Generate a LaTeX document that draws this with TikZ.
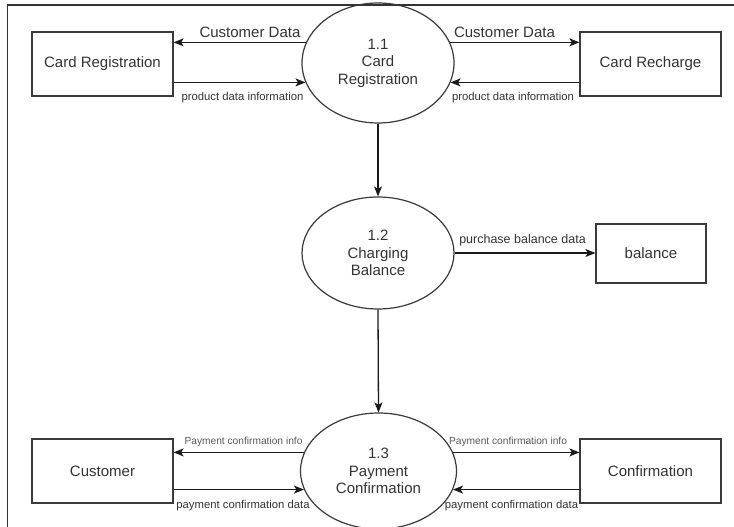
\documentclass[tikz,border=0pt]{standalone}
\usepackage{fontspec}
\setmainfont{Liberation Sans}
\usetikzlibrary{arrows.meta,shapes.geometric}

\definecolor{ink}{HTML}{1A1A1A}
\definecolor{edge}{HTML}{3A3A3A}
\definecolor{txt}{HTML}{333333}
\definecolor{softtxt}{HTML}{5A5A5A}

\tikzset{
  entity/.style={draw=edge, line width=1.2pt, rectangle, inner sep=0pt,
    minimum width=141pt, minimum height=64pt, text=txt,
    font=\fontsize{15}{18}\selectfont},
  process/.style={draw=edge, line width=1.2pt, ellipse, inner sep=0pt,
    align=center, text=txt, font=\fontsize{15}{17.5}\selectfont},
  flow/.style={draw=ink, line width=1.3pt,
    -{Stealth[length=10pt,width=8pt,inset=2.5pt]}},
  biglbl/.style={text=txt, inner sep=0pt, font=\fontsize{15}{18}\selectfont},
  midlbl/.style={text=txt, inner sep=0pt, font=\fontsize{12.5}{15}\selectfont},
  smalllbl/.style={text=txt, inner sep=0pt, font=\fontsize{11.3}{13}\selectfont},
  tinylbl/.style={text=softtxt, inner sep=0pt, font=\fontsize{10.2}{12}\selectfont},
}

\begin{document}
\begin{tikzpicture}[x=1pt,y=1pt]
  \useasboundingbox[fill=white] (0,0) rectangle (734,527);

  % outer frame (top and left edges)
  \draw[draw=txt, line width=1.5pt] (7.5,0) -- (7.5,522) -- (734,522);

  % processes
  \node[process, minimum width=152pt, minimum height=120pt] (p11) at (378,464)
    {1.1\\Card\\Registration};
  \node[process, minimum width=152pt, minimum height=112pt] (p12) at (378,274)
    {1.2\\Charging\\Balance};
  \node[process, minimum width=156pt, minimum height=116pt] (p13) at (378.5,56)
    {1.3\\Payment\\Confirmation};

  % external entities
  \node[entity] (cardreg) at (102.5,463) {Card Registration};
  \node[entity] (cardrech) at (650.5,463) {Card Recharge};
  \node[entity, minimum width=110pt, minimum height=59pt] (bal) at (651,273.5) {balance};
  \node[entity] (cust) at (102.5,56) {Customer};
  \node[entity] (conf) at (650.5,56) {Confirmation};

  % flows around 1.1
  \draw[flow] (p11.164) -- (cardreg.east |- p11.164);
  \draw[flow] (cardreg.east |- p11.195) -- (p11.195);
  \draw[flow] (p11.16) -- (cardrech.west |- p11.16);
  \draw[flow] (cardrech.west |- p11.345) -- (p11.345);

  % flows between processes
  \draw[flow] (p11.south) -- (p12.north);
  \draw[flow] (p12.east) -- (bal.west |- p12.east);
  \draw[flow] (p12.south) -- (p13.north);

  % flows around 1.3
  \draw[flow] (p13.166) -- (cust.east |- p13.166);
  \draw[flow] (cust.east |- p13.194) -- (p13.194);
  \draw[flow] (p13.14) -- (conf.west |- p13.14);
  \draw[flow] (conf.west |- p13.346) -- (p13.346);

  % flow labels
  \node[biglbl] (l1) at (250,495) {Customer Data};
  \node[biglbl] (l2) at (504.5,495) {Customer Data};
  \node[smalllbl] (l3) at (242.5,429) {product data information};
  \node[smalllbl] (l4) at (513,429) {product data information};
  \node[midlbl] (l5) at (522.5,287) {purchase balance data};
  \node[tinylbl] (l6) at (243.5,85) {Payment confirmation info};
  \node[tinylbl] (l7) at (508,85) {Payment confirmation info};
  \node[smalllbl] (l8) at (243,21) {payment confirmation data};
  \node[smalllbl] (l9) at (511.5,21) {payment confirmation data};
\end{tikzpicture}
\end{document}
